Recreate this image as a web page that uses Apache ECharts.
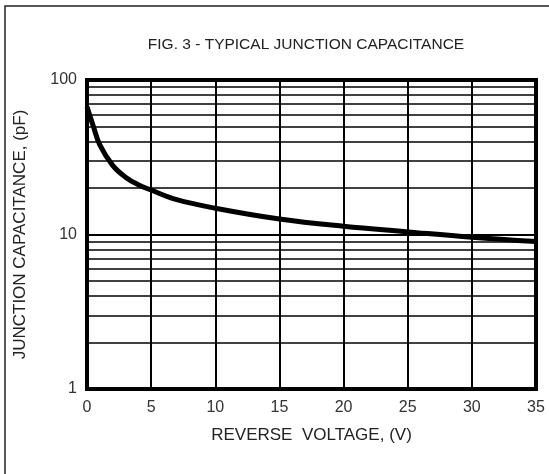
<!DOCTYPE html>
<html><head><meta charset="utf-8">
<script src="https://cdn.jsdelivr.net/npm/echarts@6/dist/echarts.min.js"></script>
<style>html,body{margin:0;padding:0;background:#fff}#c{width:549px;height:474px}</style>
</head><body><div id="c"></div>
<script>
var titleText = 'FIG. 3 - TYPICAL JUNCTION CAPACITANCE';
var xName = 'REVERSE  VOLTAGE, (V)';
var yName = 'JUNCTION CAPACITANCE, (pF)';
var voltage = [0, 0.5, 1, 2, 3, 4, 5, 7, 10, 15, 20, 25, 30, 35];
var capacitance = [67, 50, 38, 28, 23.5, 21, 19.4, 16.8, 14.8, 12.6, 11.3, 10.4, 9.6, 9.0];
var minorGrid = [2, 3, 4, 5, 6, 7, 8, 9, 20, 30, 40, 50, 60, 70, 80, 90];

var chart = echarts.init(document.getElementById('c'), null, {renderer: 'canvas'});
var font = 'Liberation Sans, Arial, sans-serif';
chart.setOption({
  animation: false,
  backgroundColor: '#fff',
  grid: {left: 87, right: 13, top: 80, bottom: 85, show: true, borderColor: '#000', borderWidth: 4, backgroundColor: 'transparent'},
  graphic: [
    {type: 'rect', shape: {x: 5, y: 6, width: 600, height: 600}, style: {fill: 'none', stroke: '#222', lineWidth: 1.5}, z: -1},
    {type: 'text', x: 306, y: 45, style: {text: titleText, fontFamily: font, fontSize: 15.5, fill: '#222', align: 'center', verticalAlign: 'middle'}}
  ],
  xAxis: {type: 'value', min: 0, max: 35, interval: 5,
    name: xName, nameLocation: 'middle', nameGap: 38,
    nameTextStyle: {fontFamily: font, fontSize: 17, color: '#222'},
    axisLine: {show: false}, axisTick: {show: false},
    axisLabel: {fontFamily: font, fontSize: 16, color: '#333', margin: 11},
    splitLine: {show: true, lineStyle: {color: '#000', width: 2}}},
  yAxis: {type: 'log', logBase: 10, min: 1, max: 100,
    name: yName, nameLocation: 'middle', nameGap: 58,
    nameTextStyle: {fontFamily: font, fontSize: 17, color: '#222'},
    axisLine: {show: false}, axisTick: {show: false},
    axisLabel: {fontFamily: font, fontSize: 16, color: '#333', margin: 10},
    splitLine: {show: true, lineStyle: {color: '#000', width: 2}}},
  series: [{
    type: 'line', smooth: 0.4, symbol: 'none',
    data: voltage.map(function (v, i) { return [v, capacitance[i]]; }),
    lineStyle: {color: '#000', width: 5},
    markLine: {silent: true, symbol: 'none', label: {show: false},
      lineStyle: {color: '#000', width: 1.6, type: 'solid'},
      data: minorGrid.map(function (g) { return {yAxis: g}; })},
    z: 5
  }]
});
</script></body></html>
